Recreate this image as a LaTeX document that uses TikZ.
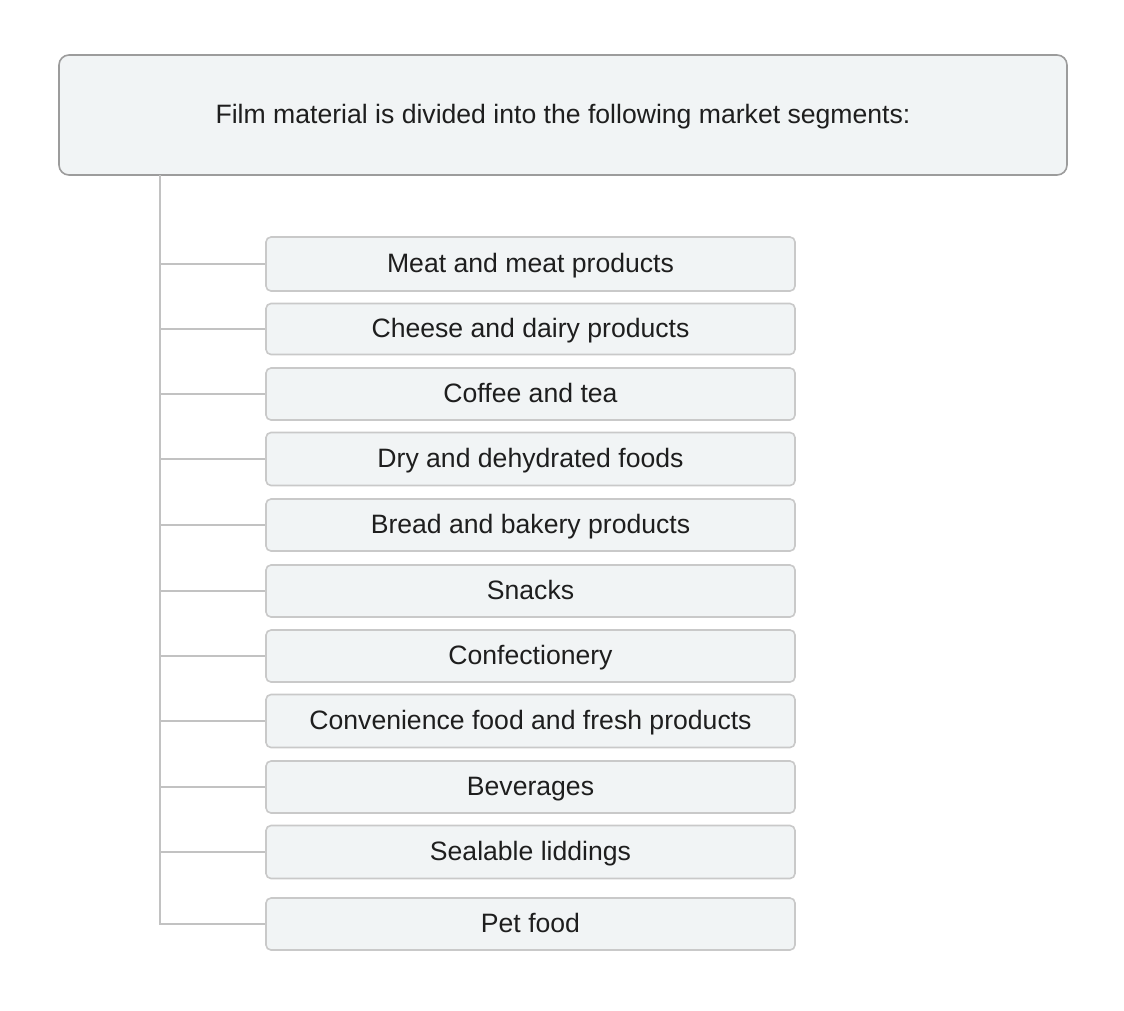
\documentclass[tikz,border=0pt]{standalone}
\usepackage{fontspec}
\setmainfont{Liberation Sans}
\definecolor{boxfill}{HTML}{F1F4F5}
\definecolor{topborder}{HTML}{9C9C9C}
\definecolor{childborder}{HTML}{C9C9C9}
\definecolor{linkcol}{HTML}{C2C2C2}
\definecolor{txt}{HTML}{1E1E1E}
\begin{document}
\begin{tikzpicture}[x=1pt,y=-1pt,
  topbox/.style={draw=topborder,fill=boxfill,line width=1.6pt,rounded corners=10pt,
    minimum width=1008pt,minimum height=120pt,inner sep=0pt,text=txt,
    text height=20pt,text depth=4pt,
    font=\fontsize{26.6}{32}\selectfont},
  childbox/.style={draw=childborder,fill=boxfill,line width=1.6pt,rounded corners=5pt,
    minimum width=529pt,minimum height=52pt,inner sep=0pt,text=txt,
    text height=20pt,text depth=4pt,
    font=\fontsize{26.6}{32}\selectfont},
  link/.style={draw=linkcol,line width=1.6pt}]
\useasboundingbox (0,0) rectangle (1124,1010);
\node[topbox] (top) at (563,115) {Film material is divided into the following market segments:};
\node[childbox,minimum height=54pt] (c1) at (530.5,264) {Meat and meat products};
\node[childbox,minimum height=51pt] (c2) at (530.5,329) {Cheese and dairy products};
\node[childbox] (c3) at (530.5,394) {Coffee and tea};
\node[childbox,minimum height=53pt] (c4) at (530.5,459) {Dry and dehydrated foods};
\node[childbox] (c5) at (530.5,525) {Bread and bakery products};
\node[childbox] (c6) at (530.5,591) {Snacks};
\node[childbox] (c7) at (530.5,656) {Confectionery};
\node[childbox,minimum height=53pt] (c8) at (530.5,721) {Convenience food and fresh products};
\node[childbox] (c9) at (530.5,787) {Beverages};
\node[childbox,minimum height=53pt] (c10) at (530.5,852) {Sealable liddings};
\node[childbox] (c11) at (530.5,924) {Pet food};
\coordinate (trunk) at (160,175);
\draw[link] (trunk) |- (c11.west);
\foreach \k in {1,...,10}{
  \draw[link] (trunk |- c\k.west) -- (c\k.west);
}
\end{tikzpicture}
\end{document}
